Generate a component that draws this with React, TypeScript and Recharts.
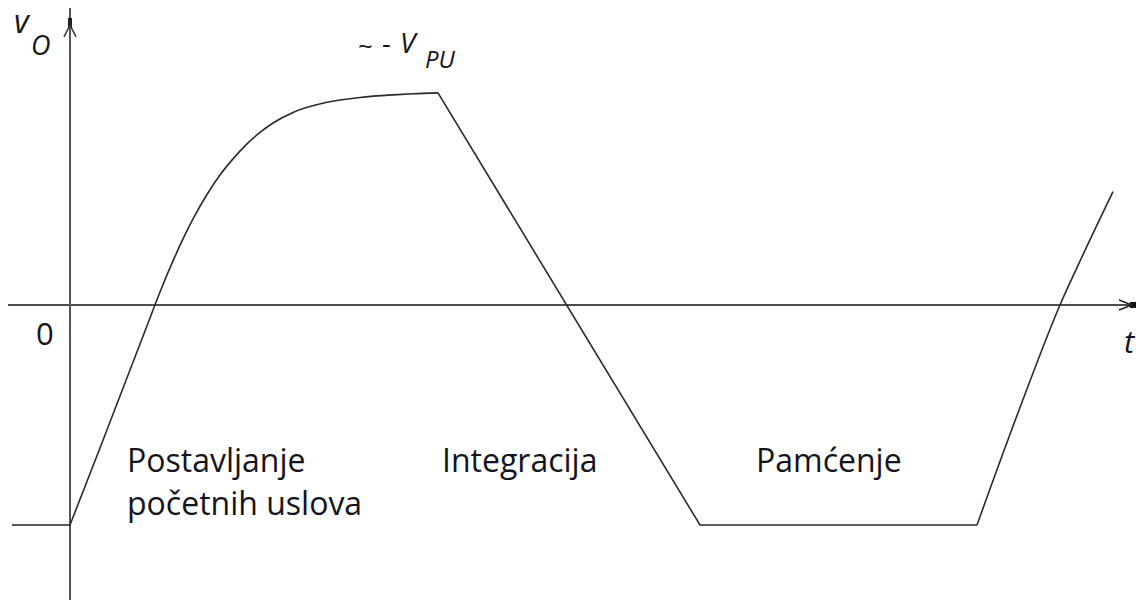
import { LineChart, Line, XAxis, YAxis, ReferenceLine, ReferenceDot } from "recharts";

// integrator output v_O over one cycle (t in ms, v in V)
// phase 1: setting initial conditions (rises toward ~ -V_PU)
const setupT = [0, 3, 8, 9, 10.3, 11.3, 12.3, 13.7, 15, 16.3, 17.7, 19, 20.3, 22.3, 25.7, 29, 32.3, 34.3, 36.8];
const setupV = [-10, -6.5, -0.59, 0.59, 2.0, 3.0, 3.91, 5.02, 5.91, 6.64, 7.32, 7.84, 8.27, 8.75, 9.21, 9.43, 9.55, 9.6, 9.64];
// phase 2 + 3: integration ramp, then hold
const rampT = [36.8, 63, 90.7];
const rampV = [9.64, -10, -10];
// next cycle starting
const nextT = [90.7, 95.3, 99, 100.7, 104.3];
const nextV = [-10, -4.3, 0, 1.7, 5.15];

const lowLevel = -10;
const tDomain = [-7, 106.6];
const vDomain = [-13.41, 13.86];
const tAxisEnd = 106.6;
const vAxisTop = 13.5;
const vAxisBottom = -13.41;
const tAxisStart = -6.2;
const lowTickStart = -5.8;

const phaseLabels = [
  { lines: ["Postavljanje", "početnih uslova"], x: 127 },
  { lines: ["Integracija"], x: 442 },
  { lines: ["Pamćenje"], x: 756 },
];

const toRows = (ts: number[], vs: number[]) => ts.map((t, i) => ({ t, v: vs[i] }));
const setupData = toRows(setupT, setupV);
const rampData = toRows(rampT, rampV);
const nextData = toRows(nextT, nextV);

const font = "'Open Sans', 'Noto Sans', sans-serif";
const ink = "#14141c";
const curveColor = "#2a2a2a";

function ArrowUp({ cx, cy }: any) {
  return (
    <g>
      <rect x={cx - 2} y={cy + 10} width={4} height={9} fill="#222" />
      <path d={`M${cx - 6},${cy + 29} L${cx},${cy + 17} L${cx + 6},${cy + 29}`} fill="none" stroke="#333" strokeWidth={1.5} />
    </g>
  );
}

function ArrowRight({ cx, cy }: any) {
  return (
    <g>
      <rect x={cx - 6} y={cy - 3} width={6} height={6} fill="#111" />
      <path d={`M${cx - 17},${cy - 5} L${cx - 4},${cy} L${cx - 17},${cy + 5}`} fill="none" stroke="#222" strokeWidth={1.5} />
    </g>
  );
}

export default function App() {
  return (
    <div style={{ position: "absolute", left: 0, top: 0, width: 1136, height: 600, background: "#fff" }}>
      <LineChart width={1136} height={600} margin={{ top: 0, right: 0, bottom: 0, left: 0 }}>
        <XAxis dataKey="t" type="number" domain={tDomain} hide allowDataOverflow />
        <YAxis dataKey="v" type="number" domain={vDomain} hide allowDataOverflow />
        <ReferenceLine
          segment={[{ x: tAxisStart, y: 0 }, { x: tAxisEnd, y: 0 }]}
          stroke="#111"
          strokeWidth={1.6}
          ifOverflow="visible"
        />
        <ReferenceLine
          segment={[{ x: 0, y: vAxisBottom }, { x: 0, y: vAxisTop }]}
          stroke="#555"
          strokeWidth={2}
          ifOverflow="visible"
        />
        <ReferenceLine
          segment={[{ x: lowTickStart, y: lowLevel }, { x: 0, y: lowLevel }]}
          stroke="#222"
          strokeWidth={1.6}
          ifOverflow="visible"
        />
        <ReferenceDot x={0} y={vAxisTop} r={0} ifOverflow="visible" shape={ArrowUp} />
        <ReferenceDot x={tAxisEnd} y={0} r={0} ifOverflow="visible" shape={ArrowRight} />
        <Line data={setupData} type="monotoneX" dataKey="v" stroke={curveColor} strokeWidth={1.6} dot={false} activeDot={false} isAnimationActive={false} />
        <Line data={rampData} type="linear" dataKey="v" stroke={curveColor} strokeWidth={1.6} dot={false} activeDot={false} isAnimationActive={false} />
        <Line data={nextData} type="monotoneX" dataKey="v" stroke={curveColor} strokeWidth={1.6} dot={false} activeDot={false} isAnimationActive={false} />
      </LineChart>
      <svg
        width={1136}
        height={600}
        style={{ position: "absolute", left: 0, top: 0, pointerEvents: "none" }}
        fontFamily={font}
        fill={ink}
      >
        <text x={14} y={33} fontSize={32} fontStyle="italic">v</text>
        <text x={31} y={55} fontSize={27} fontStyle="italic">O</text>
        <text x={36} y={345} fontSize={31}>0</text>
        <text x={1124} y={353} fontSize={31} fontStyle="italic">t</text>
        <text x={358} y={55} fontSize={26}>~</text>
        <text x={382} y={53} fontSize={27}>-</text>
        <text x={400} y={53} fontSize={28} fontStyle="italic">V</text>
        <text x={425} y={68} fontSize={24} fontStyle="italic">PU</text>
        {phaseLabels.map((p) =>
          p.lines.map((line, i) => (
            <text key={p.x + line} x={p.x} y={472 + i * 43} fontSize={32}>
              {line}
            </text>
          ))
        )}
      </svg>
    </div>
  );
}
